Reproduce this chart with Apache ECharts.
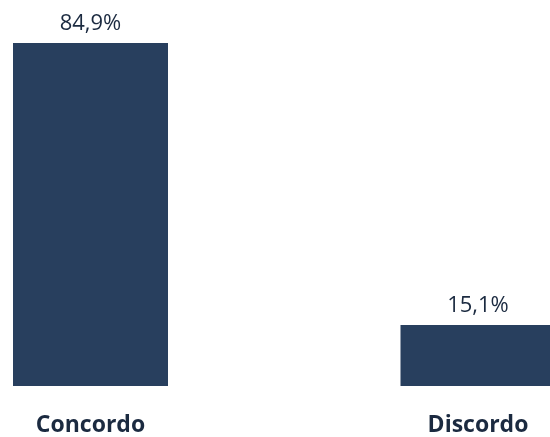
<!DOCTYPE html>
<html><head><meta charset="utf-8">
<script src="https://cdn.jsdelivr.net/npm/echarts@6/dist/echarts.min.js"></script>
<style>html,body{margin:0;padding:0;background:#fff}#c{width:550px;height:437px}</style>
</head><body><div id="c"></div>
<script>
const categories = ['Concordo', 'Discordo'];
const values = [84.9, 15.1];
const chart = echarts.init(document.getElementById('c'));
chart.setOption({
  animation: false,
  grid: { left: 90.5, right: 72, top: 43, bottom: 50 },
  xAxis: {
    type: 'category', data: categories, boundaryGap: false,
    axisLine: { show: false }, axisTick: { show: false },
    axisLabel: { margin: 28, fontFamily: 'Open Sans', fontWeight: 'bold', fontSize: 23, color: '#1b2a40' }
  },
  yAxis: { type: 'value', min: 0, max: 84.9, show: false, splitLine: { show: false } },
  series: [{
    type: 'bar', data: values, barWidth: 155, clip: false,
    itemStyle: { color: '#283f5e' },
    label: {
      show: true, position: 'top', distance: 8,
      fontFamily: 'Open Sans', fontSize: 22, color: '#1b2a40',
      formatter: p => p.value.toFixed(1).replace('.', ',') + '%'
    }
  }]
});
</script></body></html>
